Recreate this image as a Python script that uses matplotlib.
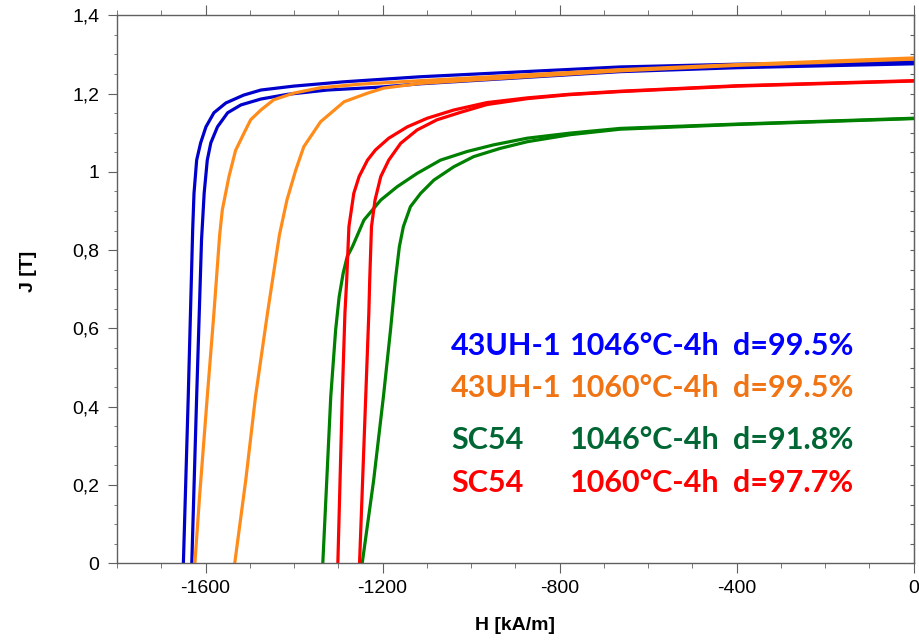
import matplotlib
matplotlib.use("Agg")
import matplotlib.pyplot as plt
from matplotlib.ticker import MultipleLocator

plt.rcParams["font.family"] = ["Liberation Sans", "DejaVu Sans"]

# demagnetization curves, H in kA/m, J in T (two samples per batch)
BLUE_A_H = [-1650, -1639, -1629, -1626, -1620, -1611, -1599, -1581, -1554, -1514, -1475, -1401, -1288, -1114, -663, -400, 0]
BLUE_A_J = [0, 0.426, 0.852, 0.945, 1.030, 1.074, 1.115, 1.151, 1.176, 1.196, 1.209, 1.219, 1.230, 1.243, 1.268, 1.275, 1.281]
BLUE_B_H = [-1631, -1620, -1609, -1603, -1596, -1588, -1573, -1550, -1520, -1475, -1415, -1325, -1212, -1114, -663, -400, 0]
BLUE_B_J = [0, 0.426, 0.826, 0.946, 1.030, 1.074, 1.115, 1.151, 1.171, 1.186, 1.198, 1.209, 1.216, 1.225, 1.256, 1.266, 1.276]

ORANGE_A_H = [-1624, -1614, -1596, -1581, -1568, -1562, -1547, -1532, -1513, -1498, -1475, -1446, -1401, -1340, -1250, -1114, -663, -400, 0]
ORANGE_A_J = [0, 0.162, 0.426, 0.639, 0.839, 0.903, 0.988, 1.055, 1.099, 1.133, 1.158, 1.184, 1.201, 1.215, 1.224, 1.233, 1.261, 1.274, 1.291]
ORANGE_B_H = [-1534, -1509, -1487, -1460, -1433, -1416, -1396, -1378, -1340, -1287, -1234, -1197, -1114, -663, -400, 0]
ORANGE_B_J = [0, 0.213, 0.426, 0.639, 0.839, 0.928, 1.005, 1.064, 1.128, 1.179, 1.201, 1.214, 1.226, 1.258, 1.272, 1.288]

RED_A_H = [-1301, -1296, -1291, -1285, -1281, -1276, -1265, -1253, -1234, -1216, -1186, -1144, -1099, -1039, -964, -873, -780, -663, -400, 0]
RED_A_J = [0, 0.213, 0.426, 0.639, 0.724, 0.860, 0.945, 0.988, 1.030, 1.056, 1.086, 1.115, 1.137, 1.158, 1.177, 1.189, 1.198, 1.206, 1.220, 1.233]
RED_B_H = [-1252, -1245, -1238, -1231, -1229, -1225, -1217, -1204, -1186, -1159, -1122, -1077, -1024, -964, -873, -780, -663, -400, 0]
RED_B_J = [0, 0.213, 0.426, 0.639, 0.724, 0.860, 0.928, 0.988, 1.030, 1.073, 1.107, 1.133, 1.152, 1.172, 1.187, 1.197, 1.205, 1.219, 1.232]

GREEN_A_H = [-1335, -1326, -1317, -1306, -1298, -1289, -1280, -1268, -1242, -1204, -1167, -1122, -1069, -1009, -949, -873, -776, -663, -400, 0]
GREEN_A_J = [0, 0.213, 0.426, 0.596, 0.681, 0.741, 0.783, 0.809, 0.877, 0.928, 0.962, 0.996, 1.030, 1.052, 1.069, 1.086, 1.099, 1.111, 1.122, 1.137]
GREEN_B_H = [-1246, -1220, -1198, -1182, -1171, -1162, -1153, -1137, -1114, -1084, -1039, -994, -934, -873, -776, -663, -400, 0]
GREEN_B_J = [0, 0.213, 0.426, 0.596, 0.724, 0.809, 0.860, 0.911, 0.945, 0.979, 1.013, 1.039, 1.060, 1.077, 1.095, 1.109, 1.121, 1.136]

XTICKS = [-1600, -1200, -800, -400, 0]
XLABELS = ["-1600", "-1200", "-800", "-400", "0"]
YTICKS = [0, 0.2, 0.4, 0.6, 0.8, 1.0, 1.2, 1.4]
YLABELS = ["0", "0,2", "0,4", "0,6", "0,8", "1", "1,2", "1,4"]

# annotation block: grade, heat treatment, density
GRADES = ["43UH-1", "43UH-1", "SC54", "SC54"]
TREATS = ["1046°C-4h", "1060°C-4h", "1046°C-4h", "1060°C-4h"]
DENS = ["d=99.5%", "d=99.5%", "d=91.8%", "d=97.7%"]
TEXT_J = [0.532, 0.425, 0.292, 0.182]
COL_H = [-1045, -776, -408]

LINE_C = {"blue": "#0000cc", "orange": "#ff8c1a", "red": "#ff0000", "green": "#008000"}
TEXT_C = ["#0000ff", "#f07314", "#006633", "#ff0000"]

fig = plt.figure(figsize=(9.19, 6.42), dpi=100)
ax = fig.add_axes([0.1273, 0.1226, 0.8669, 0.8536])

lw = 2.3
ax.plot(BLUE_A_H, BLUE_A_J, color=LINE_C["blue"], lw=lw)
ax.plot(BLUE_B_H, BLUE_B_J, color=LINE_C["blue"], lw=lw)
ax.plot(ORANGE_A_H, ORANGE_A_J, color=LINE_C["orange"], lw=lw)
ax.plot(ORANGE_B_H, ORANGE_B_J, color=LINE_C["orange"], lw=lw)
ax.plot(GREEN_A_H, GREEN_A_J, color=LINE_C["green"], lw=lw)
ax.plot(GREEN_B_H, GREEN_B_J, color=LINE_C["green"], lw=lw)
ax.plot(RED_A_H, RED_A_J, color=LINE_C["red"], lw=lw)
ax.plot(RED_B_H, RED_B_J, color=LINE_C["red"], lw=lw)

ax.set_xlim(-1800, 0)
ax.set_ylim(0, 1.4)
ax.set_xticks(XTICKS, XLABELS)
ax.set_yticks(YTICKS, YLABELS)
ax.xaxis.set_minor_locator(MultipleLocator(100))
ax.yaxis.set_minor_locator(MultipleLocator(0.05))

spc = "#606060"
for s in ax.spines.values():
    s.set_color(spc); s.set_linewidth(1.0)
ax.tick_params(axis="x", which="both", direction="out", top=True, color=spc, labelsize=14, pad=5)
ax.tick_params(axis="x", which="major", length=7)
ax.tick_params(axis="x", which="minor", length=3.3)
ax.tick_params(axis="y", which="both", direction="out", right=False, color=spc, labelsize=14, pad=6)
ax.tick_params(axis="y", which="major", length=6.7)
ax.tick_params(axis="y", which="minor", length=2.5)

sec = ax.secondary_yaxis("right")
sec.set_yticks([v * 0.05 for v in range(29)])
sec.tick_params(direction="in", length=3, color=spc, labelright=False)
sec.spines["right"].set_color(spc)

ax.set_xlabel("H [kA/m]", fontsize=14, fontweight="bold")
ax.set_ylabel("J [T]", fontsize=14, fontweight="bold")
ax.xaxis.set_label_coords(0.5, -0.098)
ax.yaxis.set_label_coords(-0.100, 0.532)

for i in range(4):
    for h, txt in zip(COL_H, [GRADES[i], TREATS[i], DENS[i]]):
        ax.text(h, TEXT_J[i], txt, color=TEXT_C[i], fontsize=22, fontweight="bold",
                family=["Lato", "DejaVu Sans"], ha="left", va="baseline")

fig.savefig("out.png", dpi=100)
